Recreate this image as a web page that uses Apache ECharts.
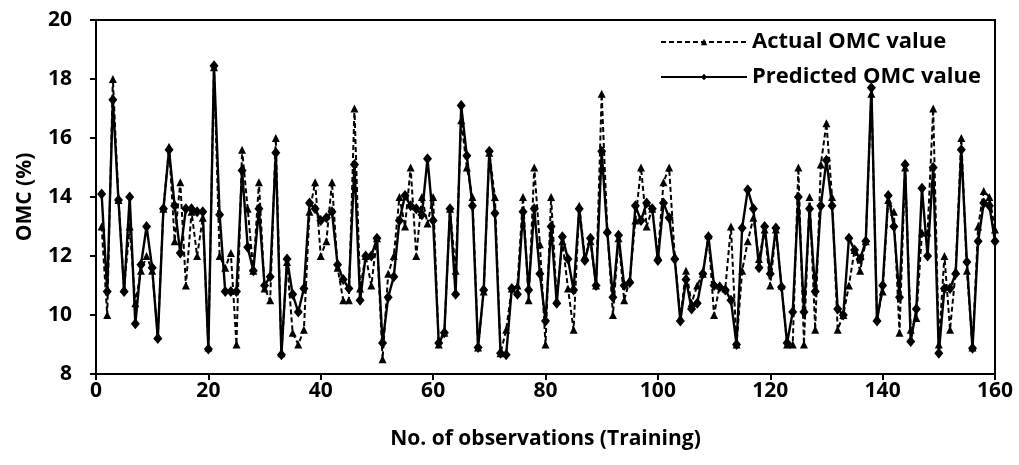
<!DOCTYPE html>
<html>
<head>
<meta charset="utf-8">
<script src="https://cdn.jsdelivr.net/npm/echarts@6/dist/echarts.min.js"></script>
<style>
  html, body { margin: 0; padding: 0; background: #fff; }
  #chart { width: 1019px; height: 465px; }
</style>
</head>
<body>
<div id="chart"></div>
<script>
// Observation numbers 1..160 (training set)
const observations = Array.from({ length: 160 }, (_, k) => k + 1);

// Measured OMC (%) for each training observation
const actualOMC = [
  13.0, 10.0, 18.0, 13.9, 10.9, 13.0, 10.4, 11.5, 12.0, 11.5,
  9.3, 13.6, 15.7, 12.5, 14.5, 11.0, 13.5, 12.0, 13.3, 8.9,
  18.4, 12.0, 11.6, 12.1, 9.0, 15.6, 13.6, 11.5, 14.5, 10.9,
  10.5, 16.0, 8.7, 11.8, 9.4, 9.0, 9.5, 13.5, 14.5, 12.0,
  12.5, 14.5, 11.6, 10.5, 10.5, 17.0, 10.9, 12.0, 11.0, 12.6,
  8.5, 11.4, 12.0, 14.0, 13.0, 15.0, 12.0, 14.0, 13.1, 14.0,
  9.0, 9.4, 13.6, 11.5, 16.6, 15.0, 14.0, 8.9, 10.8, 15.5,
  14.0, 8.7, 9.5, 10.9, 11.0, 14.0, 10.5, 15.0, 12.4, 9.0,
  14.0, 10.5, 12.5, 10.9, 9.5, 13.7, 12.0, 12.5, 11.0, 17.5,
  12.9, 10.0, 12.6, 10.5, 11.2, 13.2, 15.0, 13.0, 13.6, 12.0,
  14.5, 15.0, 12.0, 9.9, 11.5, 10.4, 11.0, 11.4, 12.7, 10.0,
  11.0, 10.9, 13.0, 9.0, 11.5, 12.5, 13.3, 11.9, 12.9, 11.0,
  12.9, 11.0, 9.0, 9.0, 15.0, 9.0, 14.0, 9.5, 15.1, 16.5,
  14.0, 9.5, 10.0, 11.0, 12.2, 11.5, 12.5, 17.5, 9.9, 10.8,
  13.9, 13.5, 9.4, 15.0, 9.5, 9.9, 12.8, 12.8, 17.0, 9.0,
  12.0, 9.5, 11.5, 16.0, 11.5, 8.9, 13.0, 14.2, 14.0, 12.9
];

// Model-predicted OMC (%) for the same observations
const predictedOMC = [
  14.1, 10.8, 17.3, 13.9, 10.8, 14.0, 9.7, 11.7, 13.0, 11.6,
  9.2, 13.6, 15.6, 13.7, 12.1, 13.6, 13.6, 13.5, 13.5, 8.85,
  18.45, 13.4, 10.8, 10.8, 10.8, 14.9, 12.3, 11.5, 13.6, 11.0,
  11.3, 15.5, 8.65, 11.9, 10.7, 10.1, 10.9, 13.8, 13.6, 13.2,
  13.3, 13.5, 11.7, 11.2, 10.9, 15.1, 10.5, 12.0, 12.0, 12.6,
  9.05, 10.6, 11.3, 13.2, 14.05, 13.7, 13.6, 13.4, 15.3, 13.2,
  9.05, 9.4, 13.6, 10.7, 17.1, 15.4, 13.7, 8.9, 10.85, 15.55,
  13.45, 8.7, 8.65, 10.9, 10.7, 13.5, 10.85, 13.6, 11.4, 9.8,
  13.0, 10.4, 12.65, 11.9, 10.85, 13.6, 11.85, 12.6, 11.0, 15.55,
  12.8, 10.6, 12.7, 11.0, 11.1, 13.7, 13.2, 13.8, 13.6, 11.85,
  13.8, 13.3, 11.9, 9.8, 11.2, 10.2, 10.4, 11.4, 12.65, 11.0,
  10.95, 10.85, 10.5, 9.0, 12.95, 14.25, 13.6, 11.6, 13.0, 11.4,
  12.95, 10.95, 9.05, 10.1, 14.0, 10.1, 13.6, 10.8, 13.7, 15.25,
  13.7, 10.2, 10.0, 12.6, 12.2, 11.9, 12.5, 17.7, 9.8, 11.0,
  14.05, 13.0, 10.6, 15.1, 9.1, 10.2, 14.3, 12.0, 15.0, 8.7,
  10.9, 10.9, 11.4, 15.6, 11.8, 8.87, 12.5, 13.8, 13.7, 12.5
];

const seriesNames = ['Actual OMC value', 'Predicted OMC value'];
const xTitle = 'No. of observations (Training)';
const yTitle = 'OMC (%)';

const FONT = '"Open Sans", "Noto Sans", sans-serif';
const pairs = (vals) => observations.map((x, k) => [x, vals[k]]);

const chart = echarts.init(document.getElementById('chart'), null, { renderer: 'canvas' });

const axisCommon = {
  axisLine: { show: true, lineStyle: { color: '#000', width: 2 } },
  axisTick: { show: true, inside: false, length: 6, lineStyle: { color: '#000', width: 2 } },
  splitLine: { show: false },
  nameLocation: 'middle',
  nameTextStyle: { color: '#000', fontSize: 21, fontWeight: 'bold', fontFamily: FONT }
};

chart.setOption({
  animation: false,
  backgroundColor: '#fff',
  grid: {
    left: 96, right: 24, top: 20, bottom: 91,
    show: true, borderColor: '#000', borderWidth: 2
  },
  legend: {
    orient: 'vertical',
    left: 655,
    top: 26,
    itemWidth: 86,
    itemHeight: 8,
    itemGap: 13,
    textStyle: { color: '#000', fontSize: 22, fontWeight: 'bold', fontFamily: FONT },
    data: seriesNames
  },
  xAxis: Object.assign({}, axisCommon, {
    type: 'value',
    min: 0, max: 160, interval: 20,
    name: xTitle,
    nameGap: 55,
    axisLabel: { color: '#000', fontSize: 21, fontWeight: 'bold', fontFamily: FONT, margin: 7 }
  }),
  yAxis: Object.assign({}, axisCommon, {
    type: 'value',
    min: 8, max: 20, interval: 2,
    name: yTitle,
    nameGap: 60,
    nameRotate: 90,
    axisLabel: { color: '#000', fontSize: 21, fontWeight: 'bold', fontFamily: FONT, margin: 24 }
  }),
  series: [
    {
      name: seriesNames[0],
      type: 'line',
      data: pairs(actualOMC),
      symbol: 'triangle',
      symbolSize: 8,
      showAllSymbol: true,
      itemStyle: { color: '#000' },
      lineStyle: { color: '#000', width: 2, type: [5, 3] },
      z: 2
    },
    {
      name: seriesNames[1],
      type: 'line',
      data: pairs(predictedOMC),
      symbol: 'diamond',
      symbolSize: [9, 11],
      showAllSymbol: true,
      itemStyle: { color: '#000' },
      lineStyle: { color: '#000', width: 2.4, type: 'solid' },
      z: 3
    }
  ]
});
</script>
</body>
</html>
